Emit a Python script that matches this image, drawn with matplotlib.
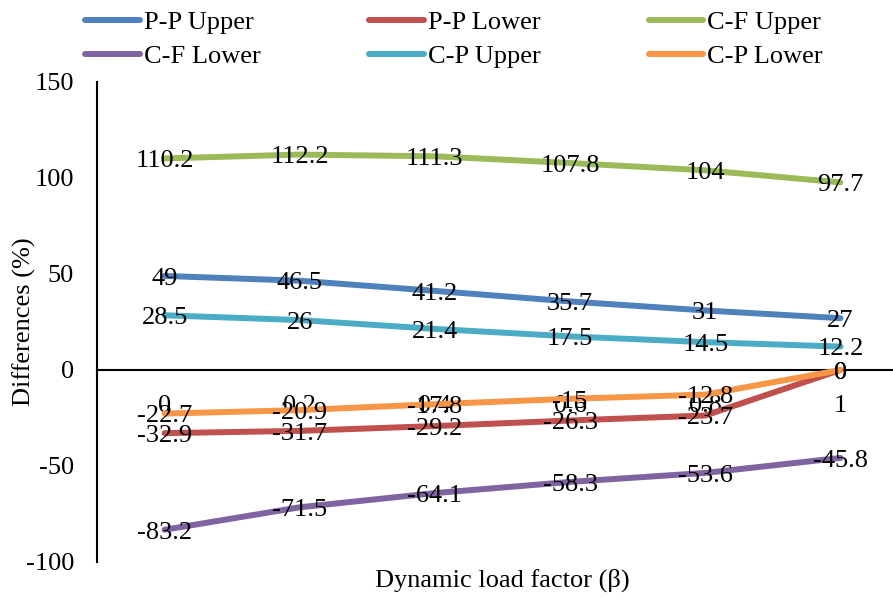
import matplotlib
matplotlib.use('Agg')
import matplotlib.pyplot as plt

# data
betas = ['0', '0.2', '0.4', '0.6', '0.8', '1']
pp_upper = [49, 46.5, 41.2, 35.7, 31, 27]
pp_lower = [-32.9, -31.7, -29.2, -26.3, -23.7, 0]
cf_upper = [110.2, 112.2, 111.3, 107.8, 104, 97.7]
cf_lower = [-83.2, -71.5, -64.1, -58.3, -53.6, -45.8]
cp_upper = [28.5, 26, 21.4, 17.5, 14.5, 12.2]
cp_lower = [-22.7, -20.9, -17.8, -15, -12.8, 0]

labels = ['P-P Upper', 'P-P Lower', 'C-F Upper', 'C-F Lower', 'C-P Upper', 'C-P Lower']
colors = ['#4F81BD', '#C0504D', '#9BBB59', '#8064A2', '#4BACC6', '#F79646']
series = [pp_upper, pp_lower, cf_upper, cf_lower, cp_upper, cp_lower]

plt.rcParams['font.family'] = ['Liberation Serif', 'DejaVu Serif']
plt.rcParams['axes.unicode_minus'] = False
fs = 19

fig = plt.figure(figsize=(8.93, 6.03), dpi=100)
W, H = 893, 603
# axes box in pixels: left 97, right 908, top 82, bottom 562
ax = fig.add_axes([97 / W, (H - 562) / H, (908 - 97) / W, (562 - 82) / H])

x = list(range(len(betas)))
handles = []
for ys, lab, c in zip(series, labels, colors):
    h, = ax.plot(x, ys, color=c, lw=4.3, solid_capstyle='round', label=lab, zorder=3)
    handles.append(h)

# data labels centred on the points
for ys in series:
    for xi, v in zip(x, ys):
        ax.annotate('%g' % v, (xi, v), xytext=(0, -2), textcoords='offset points',
                    ha='center', va='center', fontsize=fs, zorder=5)

ax.set_xlim(-0.5, 5.5)
ax.set_ylim(-100, 150)
ax.set_yticks([-100, -50, 0, 50, 100, 150])
ax.set_xticks(x)
ax.set_xticklabels(betas)

for s in ['top', 'right']:
    ax.spines[s].set_visible(False)
ax.spines['bottom'].set_position(('data', 0))
ax.spines['bottom'].set_linewidth(1.5)
ax.spines['left'].set_linewidth(1.5)
ax.spines['bottom'].set_zorder(2)

ax.tick_params(axis='x', length=0, pad=18, labelsize=fs)
ax.tick_params(axis='y', length=0, pad=16.5, labelsize=fs)

fig.text(24 / W, 1 - 322 / H, 'Differences (%)', rotation=90, ha='center', va='center', fontsize=fs)
fig.text(502 / W, 1 - 580 / H, 'Dynamic load factor (β)', ha='center', va='center', fontsize=fs)

# legend is filled column by column, so reorder to read row by row
order = [0, 3, 1, 4, 2, 5]
fig.legend([handles[i] for i in order], [labels[i] for i in order],
           loc='upper left', bbox_to_anchor=(85 / W, 1 - 11 / H), ncol=3, frameon=False,
           fontsize=fs, handlelength=2.08, handletextpad=0.15, columnspacing=4.1,
           labelspacing=0.38, borderpad=0, borderaxespad=0)

fig.savefig('out.png', dpi=100)
